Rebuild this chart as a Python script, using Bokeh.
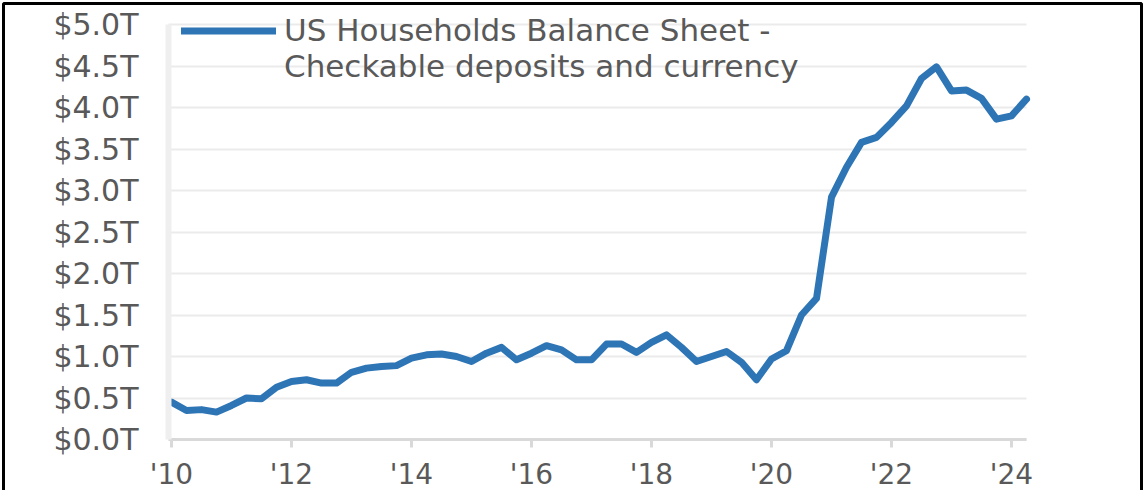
from bokeh.plotting import figure
from bokeh.models import (Range1d, FixedTicker, PrintfTickFormatter, Legend,
                          LegendItem, BoxAnnotation, ColumnDataSource)
from bokeh.embed import file_html
from bokeh.resources import INLINE

# ---- data (US households: checkable deposits and currency, $ trillions, quarterly from 2010 Q1)
start_year = 2010
deposits_tn = [
    0.45, 0.35, 0.36, 0.33, 0.41, 0.50, 0.49, 0.63, 0.70, 0.72,
    0.68, 0.68, 0.81, 0.86, 0.88, 0.89, 0.98, 1.02, 1.03, 1.00,
    0.94, 1.04, 1.11, 0.96, 1.04, 1.13, 1.08, 0.96, 0.96, 1.15,
    1.15, 1.05, 1.17, 1.26, 1.11, 0.94, 1.00, 1.06, 0.93, 0.72,
    0.97, 1.07, 1.50, 1.70, 2.92, 3.28, 3.58, 3.64, 3.82, 4.02,
    4.35, 4.49, 4.20, 4.21, 4.11, 3.86, 3.90, 4.10,
]
quarter_x = [start_year + i / 4 for i in range(len(deposits_tn))]

x_ticks = [2010, 2012, 2014, 2016, 2018, 2020, 2022, 2024]
x_tick_labels = ["'10", "'12", "'14", "'16", "'18", "'20", "'22", "'24"]
y_ticks = [0.0, 0.5, 1.0, 1.5, 2.0, 2.5, 3.0, 3.5, 4.0, 4.5, 5.0]
series_label_line1 = "US Households Balance Sheet -"
series_label_line2 = "Checkable deposits and currency"

BLUE = "#2E75B6"
TEXT = "#595959"
FONT = "DejaVu Sans"

# ---- layout: the frame covers the whole canvas; axes are pinned inside it
W, H = 1144, 490
px_per_year = 60.0
x0_px = 171.0            # canvas x of 2010
px_per_t = 83.0
y0_px = 439.0            # canvas y of $0
plot_x_start, plot_x_end = 2009.95, 2024.25

p = figure(width=W, height=H,
           x_range=Range1d(start_year - x0_px / px_per_year,
                           start_year + (W - x0_px) / px_per_year),
           y_range=Range1d(-(H - y0_px) / px_per_t, y0_px / px_per_t),
           output_backend="svg", toolbar_location=None,
           min_border_left=0, min_border_right=0,
           min_border_top=0, min_border_bottom=0,
           background_fill_color="white", border_fill_color="white",
           outline_line_color=None)

# grid lines (limited to the plotting area)
p.xgrid.visible = False
p.ygrid.ticker = FixedTicker(ticks=y_ticks)
p.ygrid.grid_line_color = "#ebebeb"
p.ygrid.grid_line_width = 2
try:
    p.ygrid.cross_bounds = (plot_x_start, plot_x_end)
except Exception:
    p.ygrid.visible = False
    p.segment(x0=[plot_x_start] * len(y_ticks), x1=[plot_x_end] * len(y_ticks),
              y0=y_ticks, y1=y_ticks, line_color="#ebebeb", line_width=2)

src = ColumnDataSource(data=dict(x=quarter_x, y=deposits_tn))
r = p.line(x="x", y="y", source=src, line_color=BLUE, line_width=7,
           line_cap="round", line_join="round")
dummy = p.line(x=[], y=[], line_alpha=0)

# x axis
xa = p.xaxis[0]
xa.fixed_location = 0
xa.bounds = (plot_x_start, plot_x_end)
xa.ticker = FixedTicker(ticks=x_ticks)
xa.major_label_overrides = {t: l for t, l in zip(x_ticks, x_tick_labels)}
xa.axis_line_color = "#d9d9d9"
xa.axis_line_width = 3
xa.major_tick_line_color = "#d9d9d9"
xa.major_tick_line_width = 3
xa.major_tick_in = 0
xa.major_tick_out = 8
xa.minor_tick_line_color = None
xa.major_label_standoff = 10
xa.major_label_text_font = FONT
xa.major_label_text_font_size = "28px"
xa.major_label_text_color = TEXT

# y axis
ya = p.yaxis[0]
ya.fixed_location = plot_x_start
ya.ticker = FixedTicker(ticks=y_ticks)
ya.formatter = PrintfTickFormatter(format="$%.1fT")
ya.bounds = (0, 5)
ya.axis_line_color = "#efefef"
ya.axis_line_width = 6
ya.major_tick_line_color = None
ya.minor_tick_line_color = None
ya.major_label_standoff = 24
ya.major_label_text_font = FONT
ya.major_label_text_font_size = "30px"
ya.major_label_text_color = TEXT

legend = Legend(items=[LegendItem(label=series_label_line1, renderers=[r]),
                       LegendItem(label=series_label_line2, renderers=[dummy])],
                location=(181, 406), padding=0, margin=0, spacing=-2,
                border_line_color=None, background_fill_alpha=0,
                glyph_width=95, glyph_height=33, label_standoff=8,
                label_height=33,
                label_text_font=FONT, label_text_font_size="31px",
                label_text_color=TEXT)
p.add_layout(legend)

border = BoxAnnotation(left=3, right=W - 3, top=3, bottom=H + 50,
                       left_units="canvas", right_units="canvas",
                       top_units="canvas", bottom_units="canvas",
                       fill_alpha=0, line_color="black", line_alpha=1,
                       line_width=3)
p.add_layout(border)

open("out.html", "w").write(file_html(p, INLINE))
